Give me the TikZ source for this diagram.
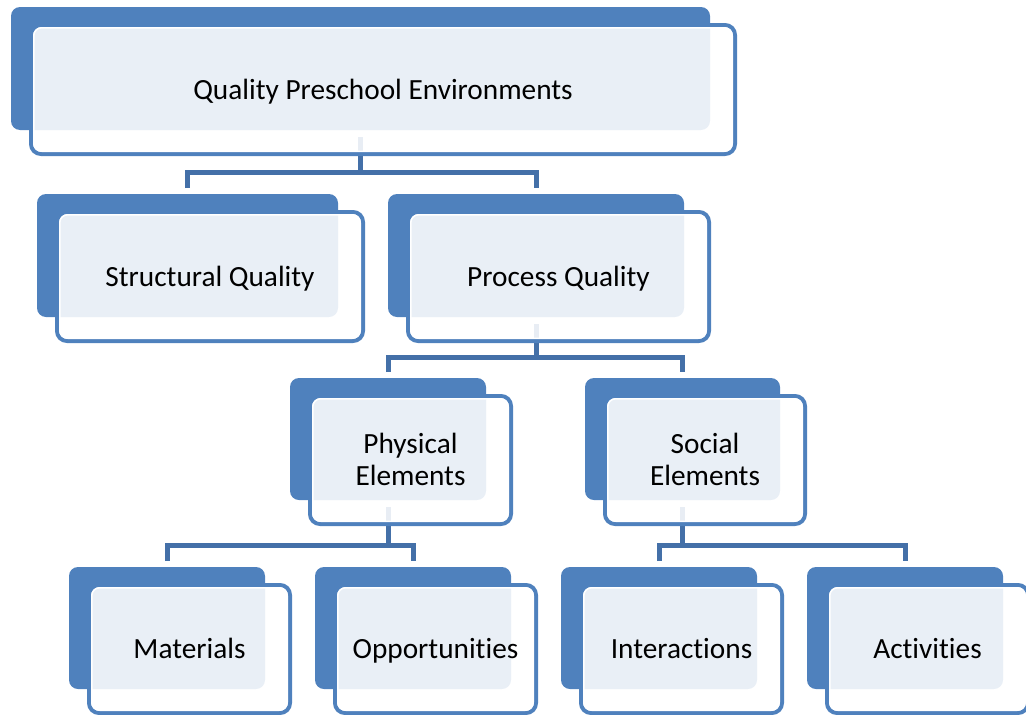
\documentclass[tikz,border=0pt]{standalone}
\usepackage{fontspec}
\setmainfont{Carlito}[Ligatures={NoCommon}]
\usetikzlibrary{calc}
\definecolor{qblue}{HTML}{4F81BD}
\definecolor{qconn}{HTML}{4470A8}
\pgfdeclarelayer{background}
\pgfsetlayers{background,main}
\tikzset{
  backbox/.style={rectangle, rounded corners=9pt, fill=qblue, draw=none, inner sep=0pt, outer sep=0pt},
  frontbox/.style={rectangle, rounded corners=10pt, draw=qblue, line width=4pt, fill=white,
    fill opacity=0.88, text opacity=1, inner sep=0pt, outer sep=0pt, align=center,
    font=\fontsize{29.3}{32}\selectfont, text=black, text height=19pt, text depth=0pt},
  twoline/.style={text height=51pt},
  ringline/.style={draw=white, line width=1.5pt, rounded corners=8pt},
  conn/.style={draw=qconn, line width=5pt},
}
% [extra options], name, back centre x, back centre y, back width, back height, text
\newcommand\qbox[7][]{%
  \node[backbox, minimum width=#5pt, minimum height=#6pt] (#2b) at (#3,#4) {};
  \node[frontbox, #1, minimum width=#5pt+5pt, minimum height=#6pt+6pt] (#2) at (#3+22.5,#4+21) {#7};
  \draw[ringline] ([shift={(2.75pt,-2.75pt)}]#2.north west) rectangle ([shift={(-2.75pt,2.75pt)}]#2.south east);
}
\begin{document}
\begin{tikzpicture}[x=1pt,y=-1pt]
\useasboundingbox (0,0) rectangle (1026,715);
\clip (0,0) rectangle (1026,715);
\qbox{T}{360.5}{68.5}{699}{123}{Quality Preschool Environments}
\qbox{S}{187.5}{255.5}{301}{123}{Structural Quality}
\qbox{P}{536}{255.5}{296}{123}{Process Quality}
\qbox[twoline]{Ph}{388}{439}{196}{122}{Physical\\Elements}
\qbox[twoline]{So}{682.5}{439}{195}{122}{Social\\Elements}
\qbox{M}{167}{628}{196}{122}{Materials}
\qbox{O}{413}{628}{196}{122}{Opportunities}
\qbox{I}{659}{628}{196}{122}{Interactions}
\qbox{A}{905}{628}{196}{122}{Activities}
\coordinate (j0) at (0,172);
\coordinate (j1) at (0,357);
\coordinate (j2) at (0,545);
\begin{pgfonlayer}{background}
  \draw[conn] ([yshift=-7pt]Tb.south) -- (Tb.south |- j0);
  \draw[conn] ([yshift=6pt]Sb.north) -- (Sb.north |- j0) -- (Pb.north |- j0) -- ([yshift=6pt]Pb.north);
  \draw[conn] ([yshift=-7pt]Pb.south) -- (Pb.south |- j1);
  \draw[conn] ([yshift=6pt]Phb.north) -- (Phb.north |- j1) -- (Sob.north |- j1) -- ([yshift=6pt]Sob.north);
  \draw[conn] ([yshift=-7pt]Phb.south) -- (Phb.south |- j2);
  \draw[conn] ([yshift=6pt]Mb.north) -- (Mb.north |- j2) -- (Ob.north |- j2) -- ([yshift=6pt]Ob.north);
  \draw[conn] ([yshift=-7pt]Sob.south) -- (Sob.south |- j2);
  \draw[conn] ([yshift=6pt]Ib.north) -- (Ib.north |- j2) -- (Ab.north |- j2) -- ([yshift=6pt]Ab.north);
\end{pgfonlayer}
\end{tikzpicture}
\end{document}
